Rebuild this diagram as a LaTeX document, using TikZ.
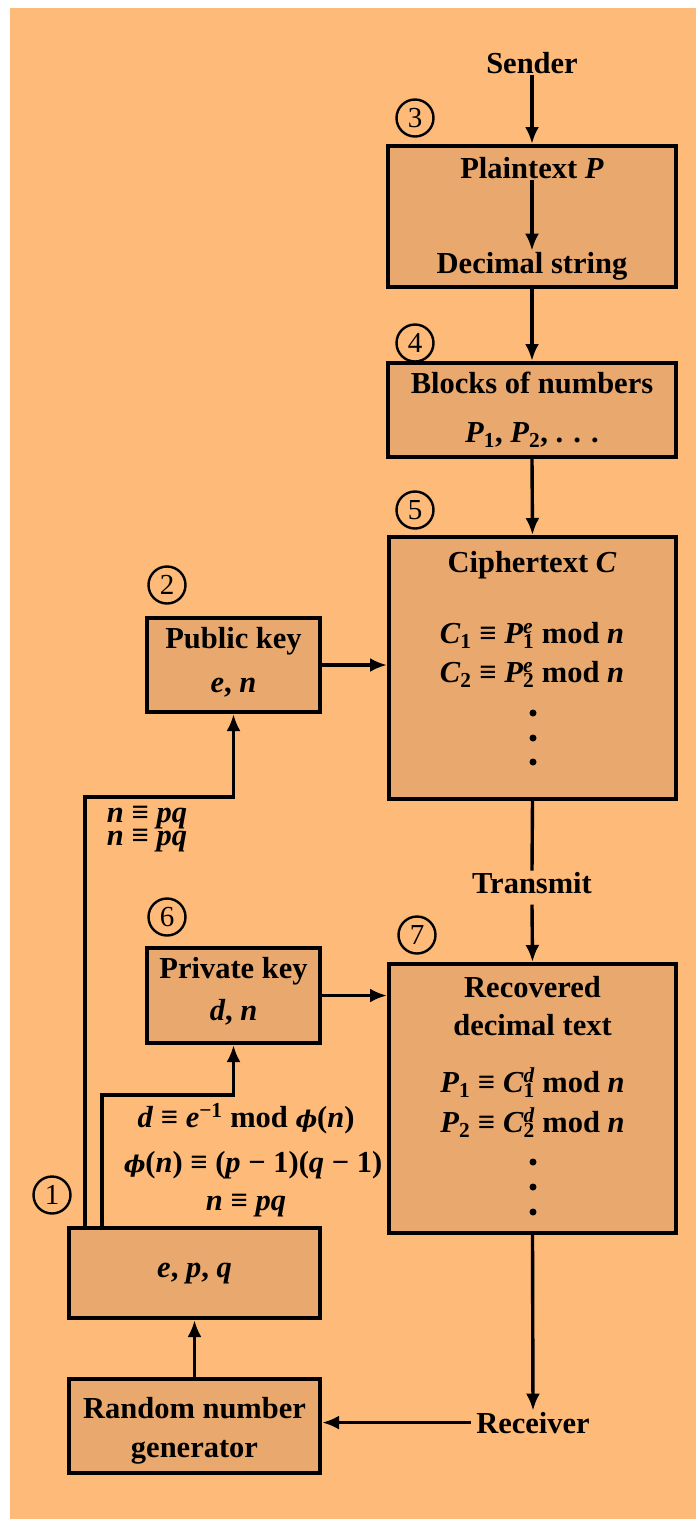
\documentclass[tikz,border=0pt]{standalone}
\usepackage{fontspec}
\setmainfont{Liberation Serif}
\newfontfamily\phifont{DejaVu Serif}
\usetikzlibrary{arrows.meta,calc}
\definecolor{bgor}{RGB}{253,186,121}
\definecolor{boxor}{RGB}{232,168,110}
\newcommand\supsub[2]{\makebox[0pt][l]{\textsuperscript{#1}}\textsubscript{#2}}
\newcommand\vi[1]{\textit{#1}}
\newcommand\vphi{{\phifont\fontsize{23}{30}\selectfont\bfseries\itshape ϕ}}
\begin{document}
\begin{tikzpicture}[x=1pt,y=-1pt,
  box/.style={draw=black,line width=4pt,fill=boxor,inner sep=0pt},
  txt/.style={anchor=base,inner sep=1pt,font=\fontsize{30.5}{36}\selectfont\bfseries},
  num/.style={draw,circle,line width=2.4pt,minimum size=37pt,inner sep=0pt,font=\fontsize{29}{30}\selectfont},
  arr/.style={line width=3.4pt,-{Latex[length=17pt,width=14pt]}},
  ln/.style={line width=3.4pt},
  dotc/.style={fill=black,circle,inner sep=0pt,minimum size=7pt}]
\fill[white] (0,0) rectangle (696,1519);
\fill[bgor] (10,8) rectangle (696,1519);
\useasboundingbox (0,0) rectangle (696,1519);

% boxes
\node[box,minimum width=288pt,minimum height=141pt] (pt) at (532,216.5) {};
\node[box,minimum width=288pt,minimum height=94pt] (blk) at (532,410) {};
\node[box,minimum width=287pt,minimum height=262pt] (ct) at (532.5,668) {};
\node[box,minimum width=287pt,minimum height=269pt] (rec) at (532.5,1098.5) {};
\node[box,minimum width=173pt,minimum height=94pt] (pub) at (233.5,665) {};
\node[box,minimum width=173pt,minimum height=95pt] (priv) at (233.5,995.5) {};
\node[box,minimum width=251pt,minimum height=90pt] (epq) at (194.5,1273) {};
\node[box,minimum width=251pt,minimum height=94pt] (rng) at (194.5,1426) {};

% circled numbers
\node[num] (c1) at (52,1195) {1};
\node[num] (c2) at (167,585) {2};
\node[num] (c3) at (415,118) {3};
\node[num] (c4) at (415,343) {4};
\node[num] (c5) at (415,510) {5};
\node[num] (c6) at (167,917) {6};
\node[num] (c7) at (417,935) {7};

% texts
\node[txt] (sender) at (532,73) {Sender};
\node[txt] (ptxt) at (532,178) {Plaintext \vi{P}};
\node[txt] (dstr) at (532,273) {Decimal string};
\node[txt] (blk1) at (532,393) {Blocks of numbers};
\node[txt] (blk2) at (532,442) {\vi{P}\textsubscript{1}, \vi{P}\textsubscript{2}, . . .};
\node[txt] (ct1) at (532,572) {Ciphertext \vi{C}};
\node[txt] (ct2) at (532,643) {\vi{C}\textsubscript{1} ≡ \vi{P}\supsub{\vi{e}}{1} mod \vi{n}};
\node[txt] (ct3) at (532,682) {\vi{C}\textsubscript{2} ≡ \vi{P}\supsub{\vi{e}}{2} mod \vi{n}};
\node[dotc] (cd1) at (533,713) {};
\node[dotc] (cd2) at (533,738) {};
\node[dotc] (cd3) at (533,762) {};
\node[txt] (pub1) at (233.5,648) {Public key};
\node[txt] (pub2) at (233.5,692) {\vi{e}, \vi{n}};
\node[txt] (npq1) at (147,822) {\vi{n} ≡ \vi{pq}};
\node[txt] (npq2) at (147,845) {\vi{n} ≡ \vi{pq}};
\node[txt] (trans) at (532,893) {Transmit};
\node[txt] (priv1) at (233.5,978) {Private key};
\node[txt] (priv2) at (233.5,1020) {\vi{d}, \vi{n}};
\node[txt] (rec1) at (532.5,997) {Recovered};
\node[txt] (rec2) at (532.5,1035) {decimal text};
\node[txt] (rec3) at (532.5,1092) {\vi{P}\textsubscript{1} ≡ \vi{C}\supsub{\vi{d}}{1} mod \vi{n}};
\node[txt] (rec4) at (532.5,1132) {\vi{P}\textsubscript{2} ≡ \vi{C}\supsub{\vi{d}}{2} mod \vi{n}};
\node[dotc] (rd1) at (533,1162) {};
\node[dotc] (rd2) at (533,1187) {};
\node[dotc] (rd3) at (533,1212) {};
\node[txt] (f1) at (246,1127) {\vi{d} ≡ \vi{e}\textsuperscript{−1} mod \vphi(\vi{n})};
\node[txt] (f2) at (253,1172) {\vphi(\vi{n}) ≡ (\vi{p} − 1)(\vi{q} − 1)};
\node[txt] (f3) at (246,1210) {\vi{n} ≡ \vi{pq}};
\node[txt] (epqt) at (194.5,1277) {\vi{e}, \vi{p}, \vi{q}};
\node[txt] (rng1) at (194.5,1418) {Random number};
\node[txt] (rng2) at (194.5,1457) {generator};
\node[txt] (recv) at (533,1433) {Receiver};

% connectors
\draw[arr] (sender.south) -- (sender.south |- pt.north);
\draw[arr] (ptxt.south) -- (dstr.north);
\draw[arr] (pt.south) -- (blk.north);
\draw[arr] (blk.south) -- (ct.north);
\draw[arr] (pub.east) -- (pub.east -| ct.west);
\draw[ln] (ct.south) -- (trans.north);
\draw[arr] ([yshift=-10pt]trans.south) -- (rec.north);
\draw[arr] (priv.east) -- (priv.east -| rec.west);
\draw[arr] (rec.south) -- (recv.north);
\draw[arr] ([xshift=-4pt]recv.west) -- (recv.west -| rng.east);
\draw[arr] (rng.north) -- (epq.south);
\coordinate (k1) at (85,797);
\coordinate (k2) at (102,1095);
\draw[arr] (k1 |- epq.north) -- (k1) -| (pub.south);
\draw[arr] (k2 |- epq.north) -- (k2) -| (priv.south);
\end{tikzpicture}
\end{document}
